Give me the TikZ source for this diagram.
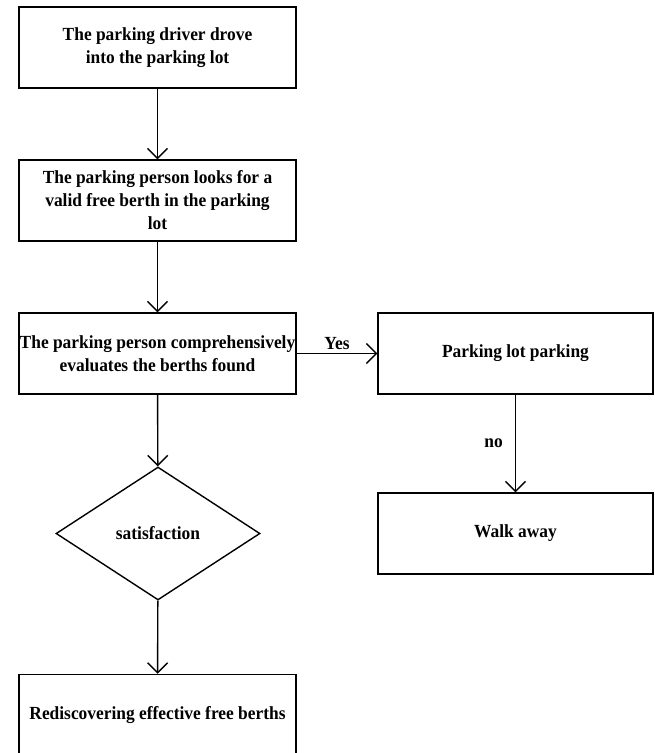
\documentclass[tikz,border=0pt]{standalone}
\usepackage{fontspec}
\setmainfont{Liberation Serif}[FakeStretch=0.94]
\usetikzlibrary{arrows.meta,shapes.geometric}

\begin{document}
\begin{tikzpicture}[x=1pt,y=-1pt,line width=1.4pt,
  every node/.style={font=\bfseries\fontsize{18.5}{23}\selectfont},
  box/.style={draw, minimum width=277pt, minimum height=81pt, align=center, inner sep=0pt},
  dec/.style={draw, diamond, aspect=1.53, minimum width=204pt, minimum height=133pt, inner sep=0pt},
  flow/.style={-{Straight Barb[length=10pt,width=20pt]}}]
\useasboundingbox (0,0) rectangle (655,753);

% left column
\node[box] (drive) at (157.5,47.5) {The parking driver drove\\into the parking lot};
\node[box] (look) at (157.5,200.5) {The parking person looks for a\\valid free berth in the parking\\lot};
\node[box] (eval) at (157.5,353.5) {The parking person comprehensively\\evaluates the berths found};
\node[dec] (sat) at (158,533.5) {satisfaction};
\node[box] (redo) at (157.5,715) {Rediscovering effective free berths};

% right column
\node[box, minimum width=275pt] (park) at (515.5,353.5) {Parking lot parking};
\node[box, minimum width=275pt] (walk) at (515.5,533.5) {Walk away};

\draw[flow] (drive) -- (look);
\draw[flow] (look) -- (eval);
\draw[flow] (eval) -- (sat);
\draw[flow] (sat) -- (redo);

\draw[flow] (eval) -- (park) node[midway, above, inner sep=3pt] {Yes};
\draw[flow] (park) -- (walk) node[midway, left, inner sep=12pt] {no};
\end{tikzpicture}
\end{document}
